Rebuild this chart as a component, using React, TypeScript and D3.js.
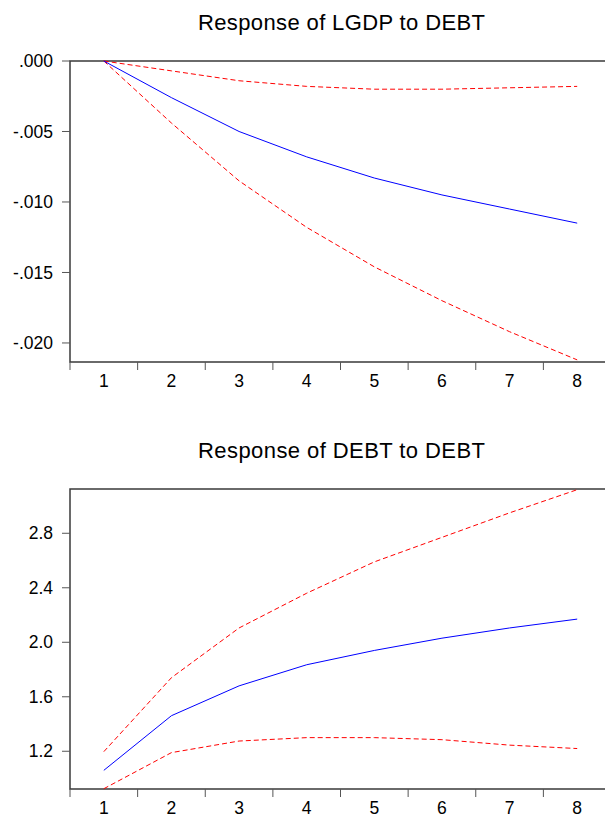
import React, { useEffect, useRef } from "react";
import * as d3 from "d3";

const periods = [1, 2, 3, 4, 5, 6, 7, 8];

const gdpResponse = [0, -0.0026, -0.005, -0.0068, -0.0083, -0.0095, -0.0105, -0.0115];
const gdpUpper = [0, -0.0007, -0.0014, -0.0018, -0.002, -0.002, -0.0019, -0.0018];
const gdpLower = [0, -0.0044, -0.0085, -0.0118, -0.0146, -0.017, -0.0192, -0.0212];
const gdpTicks = [0, -0.005, -0.01, -0.015, -0.02];

const debtResponse = [1.06, 1.461, 1.68, 1.835, 1.94, 2.03, 2.105, 2.17];
const debtUpper = [1.197, 1.74, 2.105, 2.36, 2.59, 2.77, 2.95, 3.12];
const debtLower = [0.925, 1.19, 1.275, 1.3, 1.3, 1.285, 1.245, 1.22];
const debtTicks = [1.2, 1.6, 2.0, 2.4, 2.8];

const panels = [
  {
    title: "Response of LGDP to DEBT",
    top: 61,
    bottom: 362,
    domain: [-0.02135, 0],
    ticks: gdpTicks,
    fmt: (v: number) => (v === 0 ? ".000" : "-" + d3.format(".3f")(-v).replace(/^0/, "")),
    mid: gdpResponse,
    upper: gdpUpper,
    lower: gdpLower,
    titleY: 30,
  },
  {
    title: "Response of DEBT to DEBT",
    top: 489,
    bottom: 789,
    domain: [0.923, 3.125],
    ticks: debtTicks,
    fmt: d3.format(".1f"),
    mid: debtResponse,
    upper: debtUpper,
    lower: debtLower,
    titleY: 458,
  },
];

const font = "'Liberation Sans', Arial, sans-serif";

export default function App() {
  const ref = useRef<SVGSVGElement>(null);

  useEffect(() => {
    const svg = d3.select(ref.current);
    svg.selectAll("*").remove();
    const left = 70;
    const right = 611;

    const x = d3.scaleBand<number>().domain(periods).range([left, right]);

    panels.forEach((p) => {
      const y = d3.scaleLinear().domain(p.domain).range([p.bottom, p.top]);
      const g = svg.append("g");

      g.append("text")
        .attr("x", 341.5)
        .attr("y", p.titleY)
        .attr("text-anchor", "middle")
        .style("font-family", font)
        .style("font-size", "22px")
        .attr("textLength", 287)
        .text(p.title);

      // frame
      g.append("path")
        .attr("d", `M${right},${p.top}H${left}V${p.bottom}H${right}`)
        .attr("fill", "none")
        .attr("stroke", "#3a3a3a")
        .attr("stroke-width", 1.5);

      // y ticks
      p.ticks.forEach((t) => {
        g.append("line")
          .attr("x1", left - 8)
          .attr("x2", left)
          .attr("y1", y(t))
          .attr("y2", y(t))
          .attr("stroke", "#555");
        g.append("text")
          .attr("x", left - 17)
          .attr("y", y(t))
          .attr("dy", "0.35em")
          .attr("text-anchor", "end")
          .style("font-family", font)
          .style("font-size", "17.5px")
          .text(p.fmt(t));
      });

      // x ticks at band boundaries
      periods.forEach((d) => {
        g.append("line")
          .attr("x1", x(d)!)
          .attr("x2", x(d)!)
          .attr("y1", p.bottom)
          .attr("y2", p.bottom + 8)
          .attr("stroke", "#555");
        g.append("text")
          .attr("x", x(d)! + x.bandwidth() / 2)
          .attr("y", p.bottom + 25)
          .attr("text-anchor", "middle")
          .style("font-family", font)
          .style("font-size", "17.5px")
          .text(d);
      });

      const line = d3
        .line<number>()
        .x((_, i) => x(periods[i])! + x.bandwidth() / 2)
        .y((v) => y(v));

      [
        { data: p.upper, color: "#ff0000", dash: "5,3" },
        { data: p.lower, color: "#ff0000", dash: "5,3" },
        { data: p.mid, color: "#0000ff", dash: null },
      ].forEach((s) => {
        g.append("path")
          .attr("d", line(s.data))
          .attr("fill", "none")
          .attr("stroke", s.color)
          .attr("stroke-width", 1)
          .attr("stroke-dasharray", s.dash);
      });
    });
  }, []);

  return (
    <svg
      ref={ref}
      width={605}
      height={818}
      style={{ position: "absolute", left: 0, top: 0, background: "#fff" }}
    />
  );
}
